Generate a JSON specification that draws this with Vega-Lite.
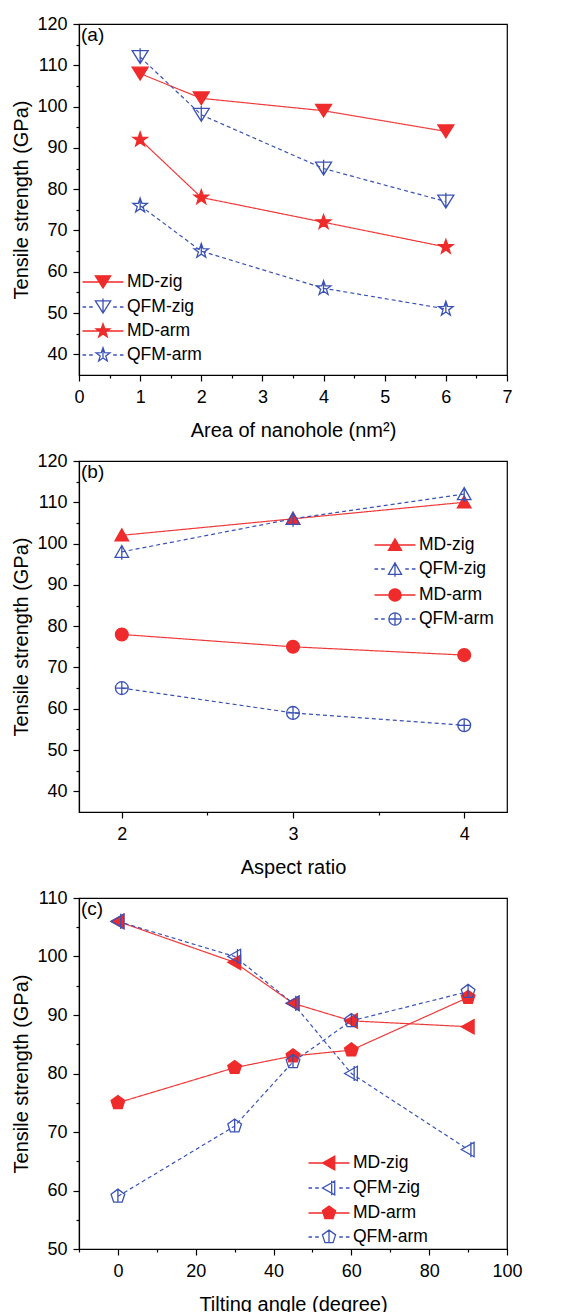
{
  "$schema": "https://vega.github.io/schema/vega-lite/v6.json",
  "padding": {"left": 11, "top": 14, "right": 5, "bottom": 5},
  "background": "white",
  "spacing": 10,
  "config": {
    "font": "Liberation Sans",
    "view": {"stroke": "black", "strokeWidth": 1.2},
    "axis": {"labelFont": "Liberation Sans", "labelFontSize": 18, "titleFont": "Liberation Sans", "titleFontSize": 20, "titleFontWeight": "normal", "domainColor": "black", "domainWidth": 1.2, "tickColor": "black", "tickWidth": 1.2, "labelColor": "black", "titleColor": "black", "grid": false, "labelOverlap": false, "labelFlush": false},
    "axisX": {"titlePadding": 14, "labelPadding": 7},
    "axisY": {"titlePadding": 5, "labelPadding": 6},
    "legend": {"labelFont": "Liberation Sans", "labelFontSize": 17.5, "labelColor": "black", "symbolSize": 420, "symbolStrokeWidth": 1.3, "symbolOpacity": 1, "labelOffset": 13, "rowPadding": 4, "padding": 0}
  },
  "resolve": {
    "scale": {"shape": "independent", "fill": "independent", "stroke": "independent", "color": "independent", "strokeDash": "independent"}
  },
  "vconcat": [
    {
      "width": 428, "height": 351,
      "title": {"text": "(a)", "fontSize": 19, "fontWeight": "normal", "anchor": "start", "frame": "group", "offset": -30, "dx": 2},
      "data": {"values": [
        {"x": 1, "y": 108, "s": "MD-zig"}, {"x": 2, "y": 102, "s": "MD-zig"}, {"x": 4, "y": 99, "s": "MD-zig"}, {"x": 6, "y": 94, "s": "MD-zig"},
        {"x": 1, "y": 112, "s": "QFM-zig"}, {"x": 2, "y": 98, "s": "QFM-zig"}, {"x": 4, "y": 85, "s": "QFM-zig"}, {"x": 6, "y": 77, "s": "QFM-zig"},
        {"x": 1, "y": 92, "s": "MD-arm"}, {"x": 2, "y": 78, "s": "MD-arm"}, {"x": 4, "y": 72, "s": "MD-arm"}, {"x": 6, "y": 66, "s": "MD-arm"},
        {"x": 1, "y": 76, "s": "QFM-arm"}, {"x": 2, "y": 65, "s": "QFM-arm"}, {"x": 4, "y": 56, "s": "QFM-arm"}, {"x": 6, "y": 51, "s": "QFM-arm"}
      ]},
      "encoding": {
        "x": {"field": "x", "type": "quantitative", "scale": {"domain": [0, 7], "nice": false, "zero": false},
          "axis": {"title": "Area of nanohole (nm²)", "values": [0, 0.5, 1, 1.5, 2, 2.5, 3, 3.5, 4, 4.5, 5, 5.5, 6, 6.5, 7], "labelExpr": "datum.value % 1 === 0 ? '' + datum.value : ''", "tickSize": {"condition": {"test": "datum.value % 1 === 0", "value": 6}, "value": 3}}},
        "y": {"field": "y", "type": "quantitative", "scale": {"domain": [35, 120], "nice": false, "zero": false},
          "axis": {"title": "Tensile strength (GPa)", "values": [40, 45, 50, 55, 60, 65, 70, 75, 80, 85, 90, 95, 100, 105, 110, 115, 120], "labelExpr": "datum.value % 10 === 0 ? datum.label : ''", "tickSize": {"condition": {"test": "datum.value % 10 === 0", "value": 6}, "value": 3}}}
      },
      "resolve": {"scale": {"shape": "independent", "fill": "independent", "stroke": "independent"}},
      "layer": [
        {
          "mark": {"type": "line", "strokeWidth": 1.2},
          "encoding": {
            "color": {"field": "s", "type": "nominal", "scale": {"domain": ["MD-arm", "QFM-arm", "MD-zig", "QFM-zig"], "range": ["#f03a3a", "#3a52b5", "#f03a3a", "#3a52b5"]}, "legend": null},
            "strokeDash": {"field": "s", "type": "nominal", "scale": {"domain": ["MD-arm", "QFM-arm", "MD-zig", "QFM-zig"], "range": [[1, 0], [4, 3], [1, 0], [4, 3]]}, "legend": null}
          }
        },
        {
          "mark": {"type": "point", "opacity": 1, "strokeWidth": 1.3, "size": 256},
          "encoding": {
            "shape": {"field": "s", "type": "nominal", "legend": null, "scale": {"domain": ["MD-arm", "QFM-arm", "MD-zig", "QFM-zig"], "range": [
              "M0,-0.95L0.223,-0.307L0.903,-0.294L0.361,0.117L0.559,0.769L0,0.38L-0.559,0.769L-0.361,0.117L-0.903,-0.294L-0.223,-0.307Z",
              "M0,-0.95L0.223,-0.307L0.903,-0.294L0.361,0.117L0.559,0.769L0,0.38L-0.559,0.769L-0.361,0.117L-0.903,-0.294L-0.223,-0.307ZM0,-0.95L0,0.38",
              "M-1,-0.8L1,-0.8L0,0.8Z",
              "M-1,-0.8L1,-0.8L0,0.8ZM0,-1.1L0,0.8"
            ]}},
            "fill": {"field": "s", "type": "nominal", "legend": null, "scale": {"domain": ["MD-arm", "QFM-arm", "MD-zig", "QFM-zig"], "range": ["#ef2b2b", "transparent", "#ef2b2b", "transparent"]}},
            "stroke": {"field": "s", "type": "nominal", "legend": null, "scale": {"domain": ["MD-arm", "QFM-arm", "MD-zig", "QFM-zig"], "range": ["#ef2b2b", "#3a52b5", "#ef2b2b", "#3a52b5"]}}
          }
        },
        {
          "mark": {"type": "point", "opacity": 0, "strokeWidth": 1.3, "size": 420},
          "encoding": {
            "shape": {"field": "s", "type": "nominal", "scale": {"domain": ["MD-zig", "QFM-zig", "MD-arm", "QFM-arm"], "range": [
              "M-2,0H2M-0.75,-0.6L0.75,-0.6L0,0.6Z",
              "M-2,0H-1.65M-1.35,0H-1M1,0H1.35M1.65,0H2M-0.75,-0.6L0.75,-0.6L0,0.6ZM0,-0.83L0,0.6",
              "M-2,0H2M0,-0.713L0.167,-0.23L0.677,-0.22L0.271,0.088L0.419,0.577L0,0.285L-0.419,0.577L-0.271,0.088L-0.677,-0.22L-0.167,-0.23Z",
              "M-2,0H-1.65M-1.35,0H-1M1,0H1.35M1.65,0H2M0,-0.713L0.167,-0.23L0.677,-0.22L0.271,0.088L0.419,0.577L0,0.285L-0.419,0.577L-0.271,0.088L-0.677,-0.22L-0.167,-0.23ZM0,-0.713L0,0.285"
            ]}, "legend": {"title": null, "orient": "none", "legendX": 13, "legendY": 247}},
            "fill": {"field": "s", "type": "nominal", "scale": {"domain": ["MD-zig", "QFM-zig", "MD-arm", "QFM-arm"], "range": ["#ef2b2b", "transparent", "#ef2b2b", "transparent"]}, "legend": {"title": null, "orient": "none", "legendX": 13, "legendY": 247}},
            "stroke": {"field": "s", "type": "nominal", "scale": {"domain": ["MD-zig", "QFM-zig", "MD-arm", "QFM-arm"], "range": ["#ef2b2b", "#3a52b5", "#ef2b2b", "#3a52b5"]}, "legend": {"title": null, "orient": "none", "legendX": 13, "legendY": 247}}
          }
        }
      ]
    },
    {
      "width": 428, "height": 351,
      "title": {"text": "(b)", "fontSize": 19, "fontWeight": "normal", "anchor": "start", "frame": "group", "offset": -30, "dx": 2},
      "data": {"values": [
        {"x": 2, "y": 102, "s": "MD-zig"}, {"x": 3, "y": 106, "s": "MD-zig"}, {"x": 4, "y": 110, "s": "MD-zig"},
        {"x": 2, "y": 98, "s": "QFM-zig"}, {"x": 3, "y": 106, "s": "QFM-zig"}, {"x": 4, "y": 112, "s": "QFM-zig"},
        {"x": 2, "y": 78, "s": "MD-arm"}, {"x": 3, "y": 75, "s": "MD-arm"}, {"x": 4, "y": 73, "s": "MD-arm"},
        {"x": 2, "y": 65, "s": "QFM-arm"}, {"x": 3, "y": 59, "s": "QFM-arm"}, {"x": 4, "y": 56, "s": "QFM-arm"}
      ]},
      "encoding": {
        "x": {"field": "x", "type": "quantitative", "scale": {"domain": [1.75, 4.25], "nice": false, "zero": false},
          "axis": {"title": "Aspect ratio", "values": [2, 2.5, 3, 3.5, 4], "labelExpr": "datum.value % 1 === 0 ? '' + datum.value : ''", "tickSize": {"condition": {"test": "datum.value % 1 === 0", "value": 6}, "value": 3}}},
        "y": {"field": "y", "type": "quantitative", "scale": {"domain": [35, 120], "nice": false, "zero": false},
          "axis": {"title": "Tensile strength (GPa)", "values": [40, 45, 50, 55, 60, 65, 70, 75, 80, 85, 90, 95, 100, 105, 110, 115, 120], "labelExpr": "datum.value % 10 === 0 ? datum.label : ''", "tickSize": {"condition": {"test": "datum.value % 10 === 0", "value": 6}, "value": 3}}}
      },
      "resolve": {"scale": {"shape": "independent", "fill": "independent", "stroke": "independent"}},
      "layer": [
        {
          "mark": {"type": "line", "strokeWidth": 1.2},
          "encoding": {
            "color": {"field": "s", "type": "nominal", "scale": {"domain": ["MD-arm", "QFM-arm", "MD-zig", "QFM-zig"], "range": ["#f03a3a", "#3a52b5", "#f03a3a", "#3a52b5"]}, "legend": null},
            "strokeDash": {"field": "s", "type": "nominal", "scale": {"domain": ["MD-arm", "QFM-arm", "MD-zig", "QFM-zig"], "range": [[1, 0], [4, 3], [1, 0], [4, 3]]}, "legend": null}
          }
        },
        {
          "mark": {"type": "point", "opacity": 1, "strokeWidth": 1.3, "size": 256},
          "encoding": {
            "shape": {"field": "s", "type": "nominal", "legend": null, "scale": {"domain": ["MD-arm", "QFM-arm", "MD-zig", "QFM-zig"], "range": [
              "M0.8,0A0.8,0.8 0 1,1 -0.8,0A0.8,0.8 0 1,1 0.8,0Z",
              "M0.8,0A0.8,0.8 0 1,1 -0.8,0A0.8,0.8 0 1,1 0.8,0ZM0,-0.8V0.8M-0.8,0H0.8",
              "M-0.85,0.7L0.85,0.7L0,-0.8Z",
              "M-0.85,0.7L0.85,0.7L0,-0.8ZM0,-0.8L0,1"
            ]}},
            "fill": {"field": "s", "type": "nominal", "legend": null, "scale": {"domain": ["MD-arm", "QFM-arm", "MD-zig", "QFM-zig"], "range": ["#ef2b2b", "transparent", "#ef2b2b", "transparent"]}},
            "stroke": {"field": "s", "type": "nominal", "legend": null, "scale": {"domain": ["MD-arm", "QFM-arm", "MD-zig", "QFM-zig"], "range": ["#ef2b2b", "#3a52b5", "#ef2b2b", "#3a52b5"]}}
          }
        },
        {
          "mark": {"type": "point", "opacity": 0, "strokeWidth": 1.3, "size": 420},
          "encoding": {
            "shape": {"field": "s", "type": "nominal", "scale": {"domain": ["MD-zig", "QFM-zig", "MD-arm", "QFM-arm"], "range": [
              "M-2,0H2M-0.64,0.525L0.64,0.525L0,-0.6Z",
              "M-2,0H-1.65M-1.35,0H-1M1,0H1.35M1.65,0H2M-0.64,0.525L0.64,0.525L0,-0.6ZM0,-0.6L0,0.75",
              "M-2,0H2M0.6,0A0.6,0.6 0 1,1 -0.6,0A0.6,0.6 0 1,1 0.6,0Z",
              "M-2,0H-1.65M-1.35,0H-1M1,0H1.35M1.65,0H2M0.6,0A0.6,0.6 0 1,1 -0.6,0A0.6,0.6 0 1,1 0.6,0ZM0,-0.6V0.6M-0.6,0H0.6"
            ]}, "legend": {"title": null, "orient": "none", "legendX": 305, "legendY": 73}},
            "fill": {"field": "s", "type": "nominal", "scale": {"domain": ["MD-zig", "QFM-zig", "MD-arm", "QFM-arm"], "range": ["#ef2b2b", "transparent", "#ef2b2b", "transparent"]}, "legend": {"title": null, "orient": "none", "legendX": 305, "legendY": 73}},
            "stroke": {"field": "s", "type": "nominal", "scale": {"domain": ["MD-zig", "QFM-zig", "MD-arm", "QFM-arm"], "range": ["#ef2b2b", "#3a52b5", "#ef2b2b", "#3a52b5"]}, "legend": {"title": null, "orient": "none", "legendX": 305, "legendY": 73}}
          }
        }
      ]
    },
    {
      "width": 428, "height": 351,
      "title": {"text": "(c)", "fontSize": 19, "fontWeight": "normal", "anchor": "start", "frame": "group", "offset": -30, "dx": 2},
      "data": {"values": [
        {"x": 0, "y": 106, "s": "MD-zig"}, {"x": 30, "y": 99, "s": "MD-zig"}, {"x": 45, "y": 92, "s": "MD-zig"}, {"x": 60, "y": 89, "s": "MD-zig"}, {"x": 90, "y": 88, "s": "MD-zig"},
        {"x": 0, "y": 106, "s": "QFM-zig"}, {"x": 30, "y": 100, "s": "QFM-zig"}, {"x": 45, "y": 92, "s": "QFM-zig"}, {"x": 60, "y": 80, "s": "QFM-zig"}, {"x": 90, "y": 67, "s": "QFM-zig"},
        {"x": 0, "y": 75, "s": "MD-arm"}, {"x": 30, "y": 81, "s": "MD-arm"}, {"x": 45, "y": 83, "s": "MD-arm"}, {"x": 60, "y": 84, "s": "MD-arm"}, {"x": 90, "y": 93, "s": "MD-arm"},
        {"x": 0, "y": 59, "s": "QFM-arm"}, {"x": 30, "y": 71, "s": "QFM-arm"}, {"x": 45, "y": 82, "s": "QFM-arm"}, {"x": 60, "y": 89, "s": "QFM-arm"}, {"x": 90, "y": 94, "s": "QFM-arm"}
      ]},
      "encoding": {
        "x": {"field": "x", "type": "quantitative", "scale": {"domain": [-10, 100], "nice": false, "zero": false},
          "axis": {"title": "Tilting angle (degree)", "values": [-10, 0, 10, 20, 30, 40, 50, 60, 70, 80, 90, 100], "labelExpr": "datum.value % 20 === 0 ? '' + datum.value : ''", "tickSize": {"condition": {"test": "datum.value % 20 === 0", "value": 6}, "value": 3}}},
        "y": {"field": "y", "type": "quantitative", "scale": {"domain": [50, 110], "nice": false, "zero": false},
          "axis": {"title": "Tensile strength (GPa)", "values": [50, 55, 60, 65, 70, 75, 80, 85, 90, 95, 100, 105, 110], "labelExpr": "datum.value % 10 === 0 ? datum.label : ''", "tickSize": {"condition": {"test": "datum.value % 10 === 0", "value": 6}, "value": 3}}}
      },
      "resolve": {"scale": {"shape": "independent", "fill": "independent", "stroke": "independent"}},
      "layer": [
        {
          "mark": {"type": "line", "strokeWidth": 1.2},
          "encoding": {
            "color": {"field": "s", "type": "nominal", "scale": {"domain": ["MD-arm", "QFM-arm", "MD-zig", "QFM-zig"], "range": ["#f03a3a", "#3a52b5", "#f03a3a", "#3a52b5"]}, "legend": null},
            "strokeDash": {"field": "s", "type": "nominal", "scale": {"domain": ["MD-arm", "QFM-arm", "MD-zig", "QFM-zig"], "range": [[1, 0], [4, 3], [1, 0], [4, 3]]}, "legend": null}
          }
        },
        {
          "mark": {"type": "point", "opacity": 1, "strokeWidth": 1.3, "size": 256},
          "encoding": {
            "shape": {"field": "s", "type": "nominal", "legend": null, "scale": {"domain": ["MD-arm", "QFM-arm", "MD-zig", "QFM-zig"], "range": [
              "M0,-0.9L0.856,-0.278L0.529,0.728L-0.529,0.728L-0.856,-0.278Z",
              "M0,-0.9L0.856,-0.278L0.529,0.728L-0.529,0.728L-0.856,-0.278ZM0,-0.9V0.728",
              "M-0.85,0L0.75,-0.9L0.75,0.9Z",
              "M-0.85,0L0.75,-0.9L0.75,0.9ZM0.35,-0.95V0.95"
            ]}},
            "fill": {"field": "s", "type": "nominal", "legend": null, "scale": {"domain": ["MD-arm", "QFM-arm", "MD-zig", "QFM-zig"], "range": ["#ef2b2b", "transparent", "#ef2b2b", "transparent"]}},
            "stroke": {"field": "s", "type": "nominal", "legend": null, "scale": {"domain": ["MD-arm", "QFM-arm", "MD-zig", "QFM-zig"], "range": ["#ef2b2b", "#3a52b5", "#ef2b2b", "#3a52b5"]}}
          }
        },
        {
          "mark": {"type": "point", "opacity": 0, "strokeWidth": 1.3, "size": 420},
          "encoding": {
            "shape": {"field": "s", "type": "nominal", "scale": {"domain": ["MD-zig", "QFM-zig", "MD-arm", "QFM-arm"], "range": [
              "M-2,0H2M-0.64,0L0.56,-0.675L0.56,0.675Z",
              "M-2,0H-1.65M-1.35,0H-1M1,0H1.35M1.65,0H2M-0.64,0L0.56,-0.675L0.56,0.675ZM0.26,-0.71V0.71",
              "M-2,0H2M0,-0.675L0.642,-0.209L0.397,0.546L-0.397,0.546L-0.642,-0.209Z",
              "M-2,0H-1.65M-1.35,0H-1M1,0H1.35M1.65,0H2M0,-0.675L0.642,-0.209L0.397,0.546L-0.397,0.546L-0.642,-0.209ZM0,-0.675V0.546"
            ]}, "legend": {"title": null, "orient": "none", "legendX": 239, "legendY": 254}},
            "fill": {"field": "s", "type": "nominal", "scale": {"domain": ["MD-zig", "QFM-zig", "MD-arm", "QFM-arm"], "range": ["#ef2b2b", "transparent", "#ef2b2b", "transparent"]}, "legend": {"title": null, "orient": "none", "legendX": 239, "legendY": 254}},
            "stroke": {"field": "s", "type": "nominal", "scale": {"domain": ["MD-zig", "QFM-zig", "MD-arm", "QFM-arm"], "range": ["#ef2b2b", "#3a52b5", "#ef2b2b", "#3a52b5"]}, "legend": {"title": null, "orient": "none", "legendX": 239, "legendY": 254}}
          }
        }
      ]
    }
  ]
}
